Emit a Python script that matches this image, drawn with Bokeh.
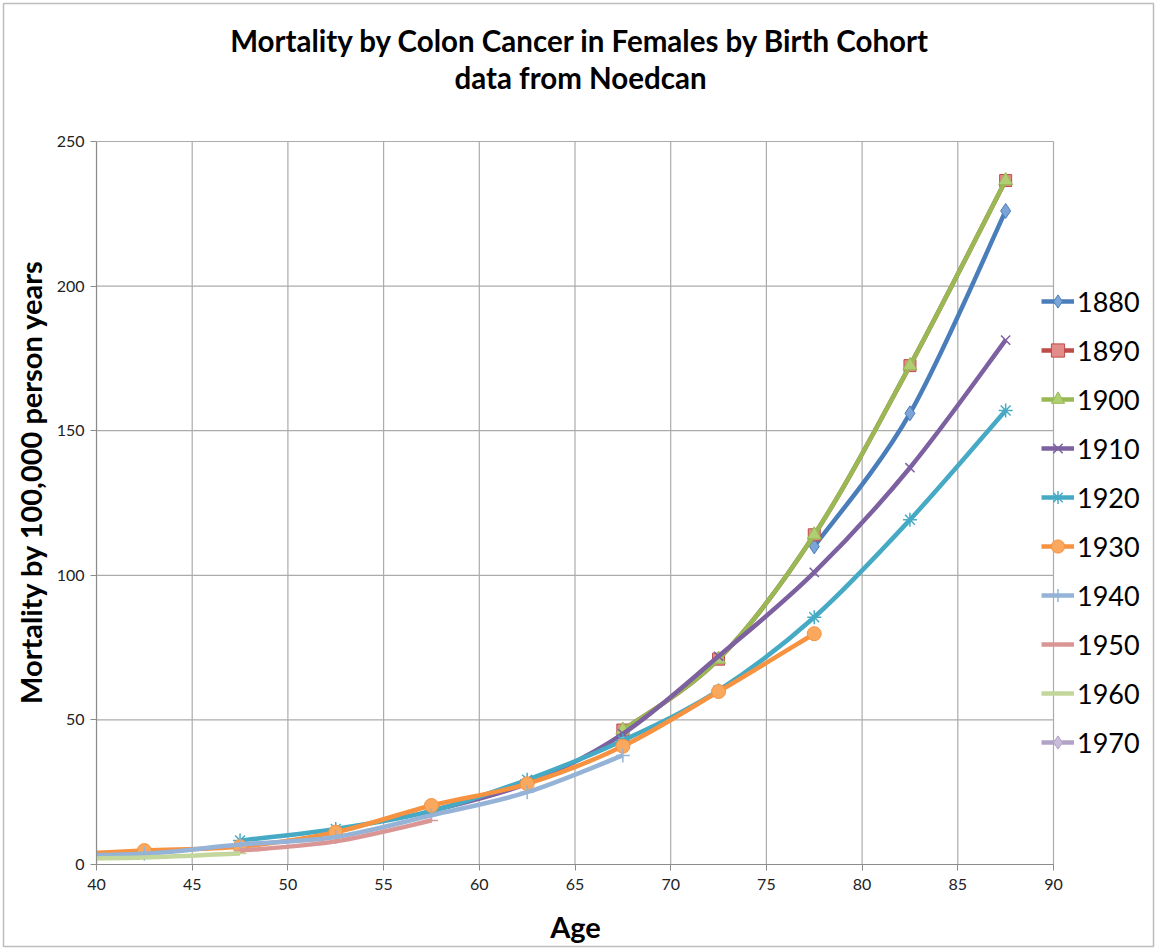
import math
from bokeh.plotting import figure
from bokeh.models import ColumnDataSource, Legend, LegendItem, Label, FixedTicker
from bokeh.embed import file_html
from bokeh.resources import INLINE

# Age-group midpoints (years) and mortality per 100,000 person years by birth cohort
ages = [37.5, 42.5, 47.5, 52.5, 57.5, 62.5, 67.5, 72.5, 77.5, 82.5, 87.5]
N = None
c1880 = [N, N, N, N, N, N, N, N, 110.0, 156.0, 226.0]
c1890 = [N, N, N, N, N, N, 46.5, 71.0, 114.0, 172.5, 236.5]
c1900 = [N, N, N, N, N, N, 46.5, 71.0, 114.0, 172.5, 236.5]
c1910 = [N, N, N, N, 18.5, 28.0, 45.2, 72.0, 101.0, 137.2, 181.3]
c1920 = [N, N, 8.3, 12.3, 18.5, 29.3, 42.9, 60.2, 85.5, 119.2, 157.0]
c1930 = [3.3, 4.8, 6.2, 11.2, 20.4, 27.9, 40.9, 59.8, 79.8, N, N]
c1940 = [3.2, 3.7, 6.9, 9.5, 17.0, 25.0, 37.7, N, N, N, N]
c1950 = [N, N, 4.8, 8.0, 15.2, N, N, N, N, N, N]
c1960 = [2.0, 2.4, 3.8, N, N, N, N, N, N, N, N]
c1970 = [1.8, N, N, N, N, N, N, N, N, N, N]

cohorts = ["1880", "1890", "1900", "1910", "1920", "1930", "1940", "1950", "1960", "1970"]
values = [c1880, c1890, c1900, c1910, c1920, c1930, c1940, c1950, c1960, c1970]

x_ticks = [40, 45, 50, 55, 60, 65, 70, 75, 80, 85, 90]
y_ticks = [0, 50, 100, 150, 200, 250]

title_lines = ["Mortality by Colon Cancer in Females by Birth Cohort", "data from Noedcan"]
x_title = "Age"
y_title = "Mortality by 100,000 person years"

# line colour, marker, marker size, marker fill, marker outline
styles = [
    ("#4A7EBB", "diamond", 15, "#7BA4D8", "#4A7EBB"),
    ("#BE4B48", "square", 12, "#E28D8A", "#BE4B48"),
    ("#98B954", "triangle", 14, "#AFCF72", "#98B954"),
    ("#7D60A0", "x", 13, None, "#7D60A0"),
    ("#46AAC5", "asterisk", 14, None, "#46AAC5"),
    ("#F69240", "circle", 14, "#F9A85E", "#F69240"),
    ("#95B3D7", "cross", 14, None, "#95B3D7"),
    ("#D99694", "dash", 13, None, "#D99694"),
    ("#C3D69B", "dash", 13, None, "#C3D69B"),
    ("#B3A2C7", "diamond", 15, "#C9BCDB", "#B3A2C7"),
]

FONT = "Lato"

# Page layout (pixels). The plotting frame fills the page apart from a thin
# border; the axes are pinned to age 40 / rate 0 and the titles and legend
# sit inside the frame.
PAGE_W, PAGE_H = 1156, 949
EDGE = 3                       # frame inset, its outline is the chart border
AX_LEFT, AX_RIGHT = 96, 1053   # page x of the first and last age tick
AX_BOTTOM, AX_TOP = 864, 141   # page y of the first and last rate tick
X_LO, X_HI = x_ticks[0], x_ticks[-1]
Y_LO, Y_HI = y_ticks[0], y_ticks[-1]
px_per_x = (AX_RIGHT - AX_LEFT) / (X_HI - X_LO)
px_per_y = (AX_BOTTOM - AX_TOP) / (Y_HI - Y_LO)
x_start = X_LO - (AX_LEFT - EDGE) / px_per_x
x_end = X_HI + (PAGE_W - EDGE - AX_RIGHT) / px_per_x
y_start = Y_LO - (PAGE_H - EDGE - AX_BOTTOM) / px_per_y
y_end = Y_HI + (AX_TOP - EDGE) / px_per_y


def page_to_data(px, py):
    return X_LO + (px - AX_LEFT) / px_per_x, Y_LO + (AX_BOTTOM - py) / px_per_y


def smooth_segments(xs, ys):
    """Cubic Bezier segments through the points (Catmull-Rom style smoothing)."""
    pts = [(x, y) for x, y in zip(xs, ys) if y is not None]
    d = dict(x0=[], y0=[], x1=[], y1=[], cx0=[], cy0=[], cx1=[], cy1=[])
    n = len(pts)
    for i in range(n - 1):
        p0 = pts[max(i - 1, 0)]
        p1 = pts[i]
        p2 = pts[i + 1]
        p3 = pts[min(i + 2, n - 1)]
        d["x0"].append(p1[0]); d["y0"].append(p1[1])
        d["x1"].append(p2[0]); d["y1"].append(p2[1])
        d["cx0"].append(p1[0] + (p2[0] - p0[0]) / 6.0)
        d["cy0"].append(p1[1] + (p2[1] - p0[1]) / 6.0)
        d["cx1"].append(p2[0] - (p3[0] - p1[0]) / 6.0)
        d["cy1"].append(p2[1] - (p3[1] - p1[1]) / 6.0)
    return d, pts


p = figure(
    width=PAGE_W, height=PAGE_H,
    x_range=(x_start, x_end), y_range=(y_start, y_end),
    output_backend="svg", toolbar_location=None, title=None,
    min_border_left=EDGE, min_border_right=EDGE,
    min_border_top=EDGE, min_border_bottom=EDGE,
)
p.outline_line_color = "#BDBDBD"
p.outline_line_width = 1.5
p.background_fill_color = "white"
p.border_fill_color = "white"

# grid drawn only over the data rectangle
p.xgrid.visible = False
p.ygrid.visible = False
GRID = "#ABABAB"
p.segment(x0=x_ticks, x1=x_ticks, y0=[Y_LO] * len(x_ticks), y1=[Y_HI] * len(x_ticks),
          line_color=GRID, line_width=1.2)
p.segment(x0=[X_LO] * len(y_ticks), x1=[X_HI] * len(y_ticks), y0=y_ticks, y1=y_ticks,
          line_color=GRID, line_width=1.2)

for ax in (p.xaxis[0], p.yaxis[0]):
    ax.axis_line_color = "#8C8C8C"
    ax.axis_line_width = 1.2
    ax.major_tick_line_color = "#8C8C8C"
    ax.major_tick_out = 6
    ax.major_tick_in = 0
    ax.minor_tick_line_color = None
    ax.major_label_text_font = FONT
    ax.major_label_text_font_size = "16px"
    ax.major_label_text_color = "#222222"

p.xaxis.bounds = (X_LO, X_HI)
p.yaxis.bounds = (Y_LO, Y_HI)
p.xaxis[0].fixed_location = Y_LO
p.yaxis[0].fixed_location = X_LO
p.xaxis.ticker = FixedTicker(ticks=x_ticks)
p.yaxis.ticker = FixedTicker(ticks=y_ticks)
p.xaxis.major_label_standoff = 8
p.yaxis.major_label_standoff = 6


def add_text(text, page_x, page_y, size, angle=0.0):
    tx, ty = page_to_data(page_x, page_y)
    p.add_layout(Label(x=tx, y=ty, text=text, angle=angle,
                       text_align="center", text_baseline="middle",
                       text_font=FONT, text_font_size=size, text_font_style="bold",
                       text_color="#000000"))


for text, page_y in zip(title_lines, [40, 77]):
    add_text(text, 580, page_y, "29.5px")
add_text(x_title, 575, 926, "29px")
add_text(y_title, 30, 481, "29px", angle=math.pi / 2)

items = []
for name, ys, (lc, mk, ms, mf, mo) in zip(cohorts, values, styles):
    seg, pts = smooth_segments(ages, ys)
    if len(pts) > 1:
        curve = p.bezier(source=ColumnDataSource(seg), x0="x0", y0="y0", x1="x1", y1="y1",
                         cx0="cx0", cy0="cy0", cx1="cx1", cy1="cy1",
                         line_color=lc, line_width=4.5)
    else:
        curve = p.line([pt[0] for pt in pts], [pt[1] for pt in pts],
                       line_color=lc, line_width=4.5)
    msrc = ColumnDataSource(dict(x=[pt[0] for pt in pts], y=[pt[1] for pt in pts]))
    if mf is None:
        marks = p.scatter("x", "y", source=msrc, marker=mk, size=ms,
                          line_color=mo, line_width=1.5, fill_color=None)
    else:
        marks = p.scatter("x", "y", source=msrc, marker=mk, size=ms,
                          line_color=mo, line_width=1, fill_color=mf)
    items.append(LegendItem(label=name, renderers=[curve, marks]))

# the series run on below age 40; hide everything left of the age axis
m_left, m_top = page_to_data(EDGE + 2, EDGE + 2)
m_right, m_bottom = X_LO, page_to_data(0, PAGE_H - EDGE - 2)[1]
p.quad(left=[m_left], right=[m_right], bottom=[m_bottom], top=[m_top],
       fill_color="white", line_color=None)

# legend position relative to the frame's bottom-left corner
legend = Legend(items=items, location=(1041 - EDGE, PAGE_H - EDGE - 759))
legend.border_line_color = None
legend.background_fill_alpha = 0
legend.padding = 0
legend.margin = 0
legend.spacing = 15
legend.glyph_width = 33
legend.glyph_height = 34
legend.label_height = 34
legend.label_standoff = 3
legend.label_text_font = FONT
legend.label_text_font_size = "27px"
legend.label_text_color = "#000000"
p.add_layout(legend, "center")

open("out.html", "w").write(file_html(p, INLINE))
